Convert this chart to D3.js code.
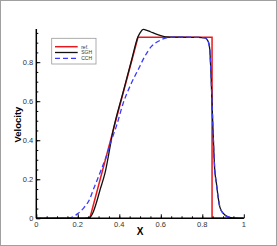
<!DOCTYPE html>
<html>
<head>
<meta charset="utf-8">
<script src="https://cdn.jsdelivr.net/npm/d3@7"></script>
<style>
  body { margin: 0; background: #fff; }
  svg { display: block; font-family: "Liberation Sans", Arial, sans-serif; }
</style>
</head>
<body>
<div id="chart"></div>
<script>
// data
const refX = [0, 0.258, 0.49, 0.847, 0.847, 1];
const refY = [0, 0, 0.928, 0.928, 0, 0];

const sghX = [0, 0.22, 0.245, 0.258, 0.275, 0.291, 0.307, 0.331, 0.371, 0.42, 0.459, 0.49, 0.5, 0.515, 0.525, 0.55, 0.575, 0.6, 0.625, 0.7, 0.78, 0.812, 0.828, 0.836, 0.841, 0.85, 0.86, 0.868, 0.876, 0.884, 0.9, 0.925, 0.95, 1];
const sghY = [0, 0, 0.001, 0.005, 0.034, 0.085, 0.145, 0.231, 0.454, 0.653, 0.81, 0.93, 0.95, 0.968, 0.966, 0.956, 0.945, 0.936, 0.93, 0.928, 0.927, 0.925, 0.907, 0.865, 0.762, 0.5, 0.248, 0.18, 0.111, 0.06, 0.026, 0.007, 0.001, 0];

const cchX = [0, 0.146, 0.17, 0.2, 0.23, 0.258, 0.274, 0.291, 0.315, 0.339, 0.363, 0.387, 0.419, 0.455, 0.491, 0.523, 0.556, 0.588, 0.628, 0.66, 0.7, 0.78, 0.812, 0.828, 0.836, 0.841, 0.85, 0.86, 0.868, 0.876, 0.884, 0.9, 0.925, 0.95, 1];
const cchY = [0, 0, 0.005, 0.024, 0.055, 0.1, 0.145, 0.19, 0.255, 0.322, 0.402, 0.475, 0.591, 0.685, 0.762, 0.83, 0.882, 0.907, 0.925, 0.928, 0.928, 0.927, 0.925, 0.907, 0.865, 0.762, 0.5, 0.248, 0.18, 0.111, 0.06, 0.026, 0.007, 0.001, 0];

const seriesNames = ["ref.", "SGH", "CCH"];
const xTicks = [0, 0.2, 0.4, 0.6, 0.8, 1];
const yTicks = [0, 0.2, 0.4, 0.6, 0.8];

const w = 277;
const h = 246;
const margin = {left: 36.3, right: 33.2, top: 29, bottom: 27.7};

const svg = d3.select("#chart")
      .append("svg")
      .attr("width", w)
      .attr("height", h);

// outer frame
svg.append("rect")
      .attr("x", 0.5).attr("y", 0.5)
      .attr("width", w - 1).attr("height", h - 1)
      .style("fill", "none")
      .style("stroke", "#a0a0a0");

const x = d3.scaleLinear().domain([0, 1]).range([margin.left, w - margin.right]);
const yMax = 0.97;
const y = d3.scaleLinear().domain([0, yMax]).range([h - margin.bottom, margin.top]);

const plot = svg.append("g");

const line = d3.line()
      .x((d) => x(d[0]))
      .y((d) => y(d[1]));

const smooth = d3.line()
      .x((d) => x(d[0]))
      .y((d) => y(d[1]))
      .curve(d3.curveMonotoneX);

const refData = refX.map((v, i) => [v, refY[i]]);
const sghData = sghX.map((v, i) => [v, sghY[i]]);
const cchData = cchX.map((v, i) => [v, cchY[i]]);

plot.append("path")
      .attr("d", line(refData))
      .style("fill", "none")
      .style("stroke", "#e8191e")
      .style("stroke-width", 1.5);

plot.append("path")
      .attr("d", smooth(sghData))
      .style("fill", "none")
      .style("stroke", "#111")
      .style("stroke-width", 1.3);

plot.append("path")
      .attr("d", smooth(cchData))
      .style("fill", "none")
      .style("stroke", "#3a3aff")
      .style("stroke-width", 1.3)
      .style("stroke-dasharray", "5,3");

// axes, ticks pointing inward
const xAxis = d3.axisTop(x).tickValues(xTicks).tickSize(4).tickFormat("");
const xMinor = d3.axisTop(x).tickValues(d3.range(0.05, 1, 0.05)).tickSize(2).tickFormat("");
const yAxis = d3.axisRight(y).tickValues(yTicks).tickSize(4).tickFormat("");
const yMinor = d3.axisRight(y).tickValues(d3.range(0.05, 0.96, 0.05)).tickSize(2).tickFormat("");

function styleAxis(g) {
  g.selectAll("path").remove();
  g.selectAll("line").style("stroke", "#000").style("stroke-width", 1);
}

svg.append("g").attr("transform", `translate(0,${y(0)})`).call(xAxis).call(styleAxis);
svg.append("g").attr("transform", `translate(0,${y(0)})`).call(xMinor).call(styleAxis);
svg.append("g").attr("transform", `translate(${x(0)},0)`).call(yAxis).call(styleAxis);
svg.append("g").attr("transform", `translate(${x(0)},0)`).call(yMinor).call(styleAxis);

// axis lines
svg.append("line")
      .attr("x1", x(0)).attr("x2", x(1))
      .attr("y1", y(0)).attr("y2", y(0))
      .style("stroke", "#000").style("stroke-width", 1.5);
svg.append("line")
      .attr("x1", x(0)).attr("x2", x(0))
      .attr("y1", y(0)).attr("y2", y(yMax))
      .style("stroke", "#000").style("stroke-width", 1.5);

// tick labels
svg.selectAll(".xlab")
      .data(xTicks)
      .enter()
      .append("text")
      .attr("x", (d) => x(d))
      .attr("y", y(0) + 9)
      .attr("text-anchor", "middle")
      .style("font-size", "7.5px")
      .style("fill", "#333")
      .text((d) => d);

svg.selectAll(".ylab")
      .data(yTicks)
      .enter()
      .append("text")
      .attr("x", x(0) - 3)
      .attr("y", (d) => y(d) + 2.7)
      .attr("text-anchor", "end")
      .style("font-size", "7.5px")
      .style("fill", "#333")
      .text((d) => d);

// axis titles
svg.append("text")
      .attr("x", x(0.5))
      .attr("y", 235)
      .attr("text-anchor", "middle")
      .style("font-size", "10px")
      .style("font-weight", "bold")
      .text("X");

svg.append("text")
      .attr("transform", `translate(21,${y(0.48)}) rotate(-90)`)
      .attr("text-anchor", "middle")
      .style("font-size", "9.5px")
      .style("font-weight", "bold")
      .text("Velocity");

// legend
const legend = svg.append("g").attr("transform", "translate(51.7,38.3)");
legend.append("rect")
      .attr("width", 44.3).attr("height", 25.7)
      .style("fill", "#fff")
      .style("stroke", "#999")
      .style("stroke-width", 0.8);

const legendStyles = [
  {color: "#e8191e", width: 1.5, dash: null},
  {color: "#111", width: 1.3, dash: null},
  {color: "#3a3aff", width: 1.3, dash: "5,3"}
];

const items = legend.selectAll(".item")
      .data(seriesNames)
      .enter()
      .append("g")
      .attr("transform", (d, i) => `translate(0,${8.4 + i * 5.8})`);

items.append("line")
      .attr("x1", 3.3).attr("x2", 26)
      .style("stroke", (d, i) => legendStyles[i].color)
      .style("stroke-width", (d, i) => legendStyles[i].width)
      .style("stroke-dasharray", (d, i) => legendStyles[i].dash);

items.append("text")
      .attr("x", 29.5)
      .attr("y", 1.8)
      .style("font-size", "5px")
      .style("fill", "#333")
      .text((d) => d);
</script>
</body>
</html>
